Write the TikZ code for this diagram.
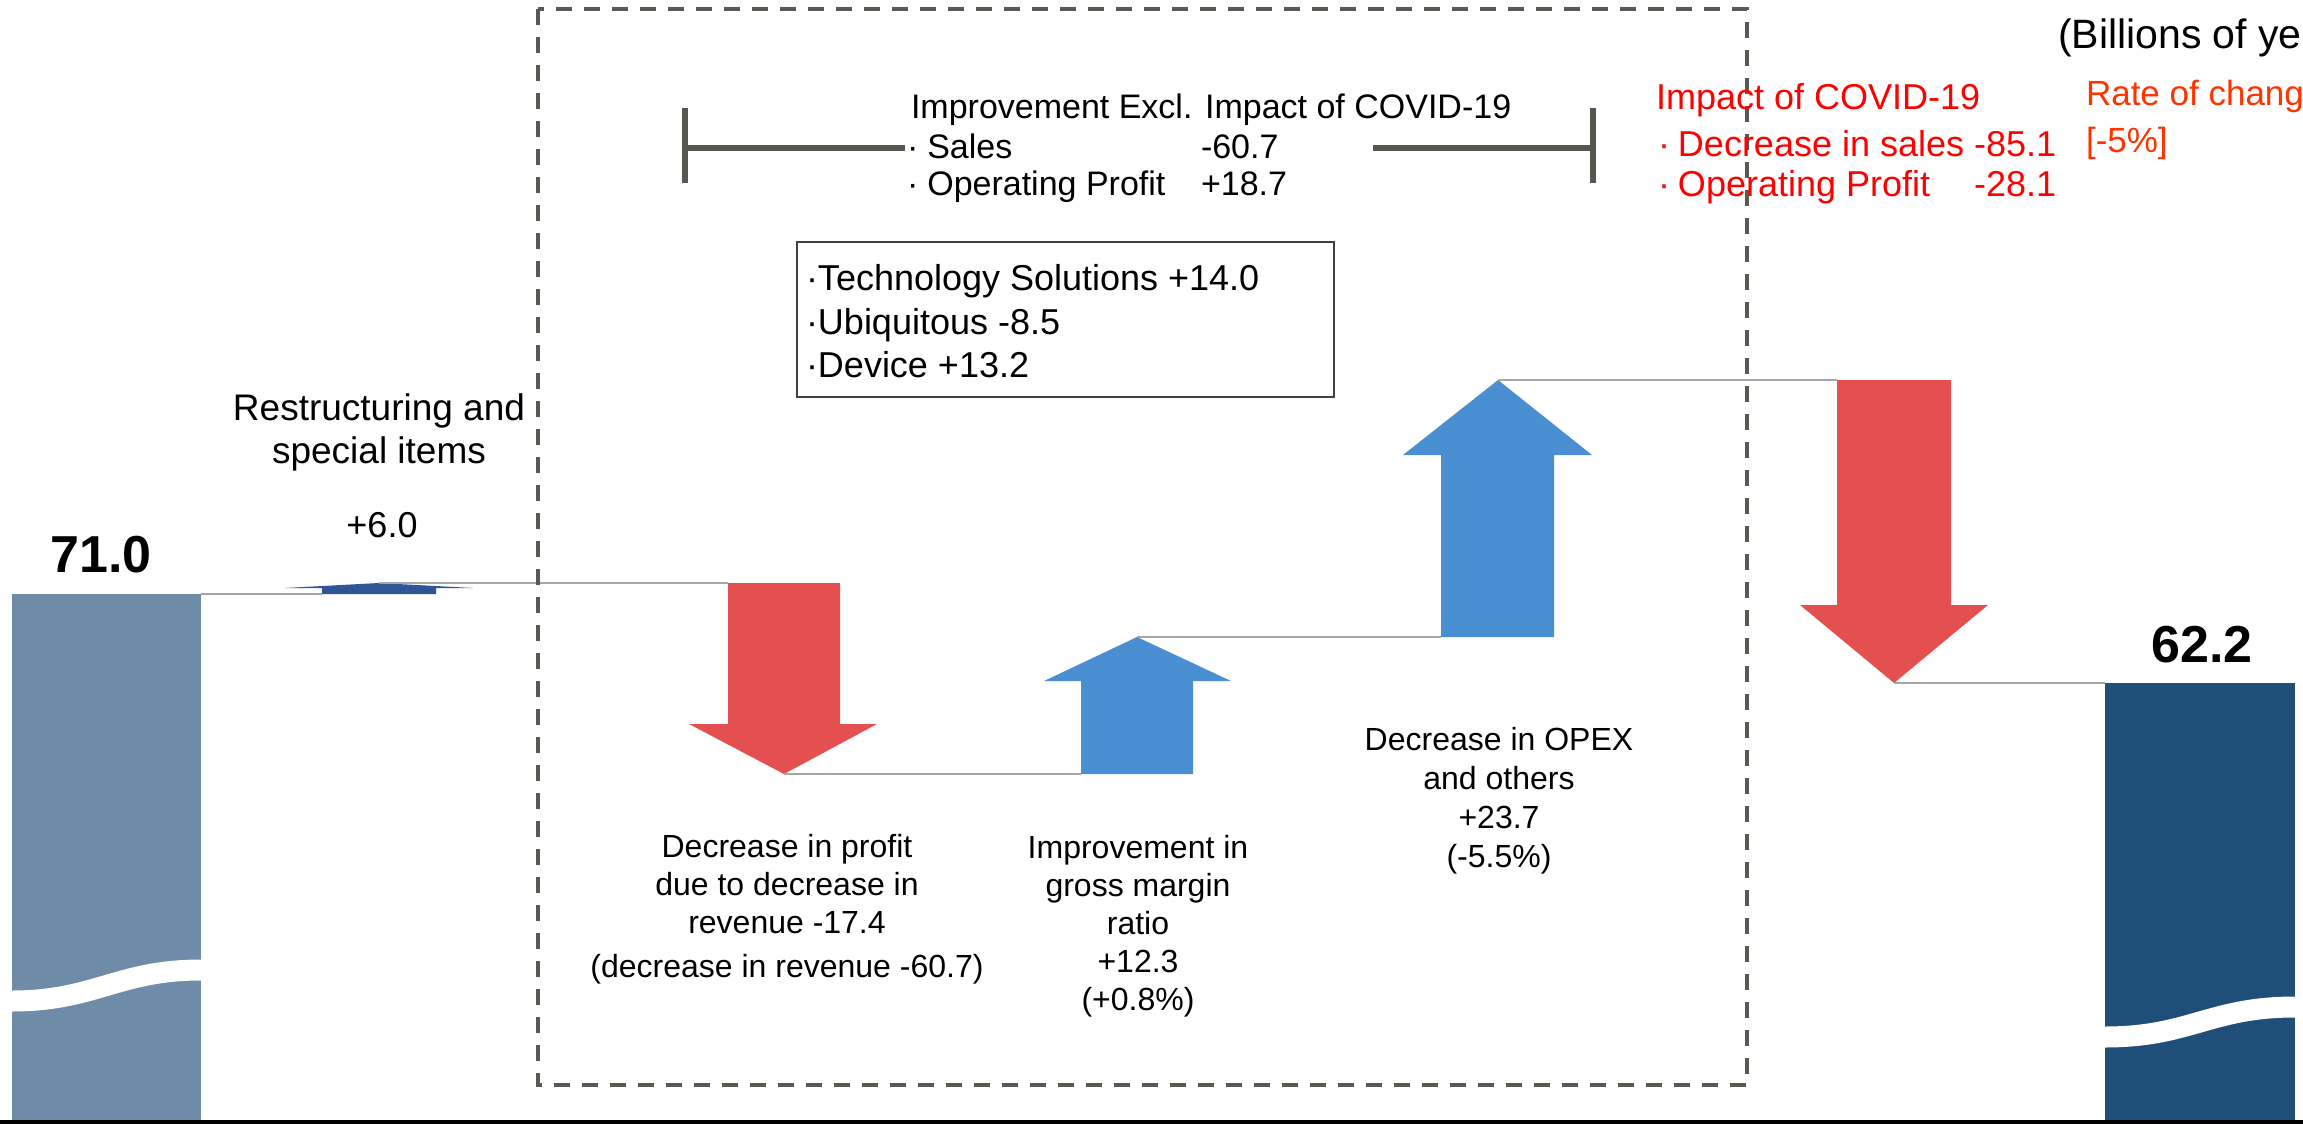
\documentclass[tikz,border=0pt]{standalone}
\usepackage{fontspec}
\setmainfont{Liberation Sans}
\definecolor{leftbarc}{HTML}{6E8CA8}
\definecolor{rightbarc}{HTML}{1F4E79}
\definecolor{smallblue}{HTML}{2F5597}
\definecolor{arrowblue}{HTML}{4A8FD1}
\definecolor{arrowred}{HTML}{E44F4F}
\definecolor{conngray}{HTML}{A6A6A6}
\definecolor{dashc}{HTML}{595952}
\definecolor{bracketc}{HTML}{57574F}
\definecolor{boxc}{HTML}{404040}
\definecolor{covidred}{HTML}{FF0000}
\definecolor{rateor}{HTML}{FF3300}
\newcommand\fsTopTxt{\fontsize{34}{38}\selectfont}
\newcommand\fsBoxTxt{\fontsize{36}{43}\selectfont}
\newcommand\fsRedTxt{\fontsize{36}{42}\selectfont}
\newcommand\fsRateTxt{\fontsize{35}{42}\selectfont}
\newcommand\fsUnitTxt{\fontsize{41}{46}\selectfont}
\newcommand\fsRestrTxt{\fontsize{37}{43}\selectfont}
\newcommand\fsBigNum{\fontsize{52}{60}\selectfont\bfseries}
\tikzset{
  conn/.style={draw=conngray, line width=2pt},
  redarrow/.style={fill=arrowred},
  bluearrow/.style={fill=arrowblue},
  wavegap/.style={draw=white, line width=21pt},
  dashbox/.style={draw=dashc, line width=4pt, dash pattern=on 16pt off 12pt},
  bracketline/.style={draw=bracketc, line width=6pt},
}
\begin{document}
\begin{tikzpicture}[x=1pt,y=-1pt, every node/.style={inner sep=0pt, outer sep=0pt}]
\useasboundingbox (0,0) rectangle (2303,1124);
\fill[white] (0,0) rectangle (2303,1124);

% ---- bars
\fill[leftbarc] (12,594) rectangle (201,1121);
\coordinate (lbtr) at (201,594);
\draw[wavegap] (12,1001) .. controls (95,1001) and (118,970) .. (201,970);
\fill[rightbarc] (2105,683) rectangle (2295,1121);
\coordinate (rbtl) at (2105,683);
\draw[wavegap] (2105,1037) .. controls (2190,1037) and (2210,1007) .. (2295,1007);
\fill[black] (0,1120) rectangle (2303,1124);

% ---- small blue arrow (restructuring)
\coordinate (s0bl) at (322,594);
\coordinate (s0tip) at (379,583);
\fill[smallblue] (s0bl) -- (436,594) -- (436,588) -- (473,588) -- (s0tip) -- (285,588) -- (322,588) -- cycle;

% ---- red arrow 1
\coordinate (r1tl) at (728,583);
\coordinate (r1tip) at (784,774);
\fill[redarrow] (r1tl) -- (840,583) -- (840,724) -- (877,724) -- (r1tip) -- (689,724) -- (728,724) -- cycle;

% ---- blue arrow 2
\coordinate (b2bl) at (1081,774);
\coordinate (b2tip) at (1137,637);
\fill[bluearrow] (b2bl) -- (1193,774) -- (1193,681) -- (1231,681) -- (b2tip) -- (1044,681) -- (1081,681) -- cycle;

% ---- blue arrow 3
\coordinate (b3bl) at (1441,637);
\coordinate (b3tip) at (1498,380);
\fill[bluearrow] (b3bl) -- (1554,637) -- (1554,455) -- (1592,455) -- (b3tip) -- (1403,455) -- (1441,455) -- cycle;

% ---- red arrow 4
\coordinate (r4tl) at (1837,380);
\coordinate (r4tip) at (1894,683);
\fill[redarrow] (r4tl) -- (1951,380) -- (1951,605) -- (1988,605) -- (r4tip) -- (1800,605) -- (1837,605) -- cycle;

% ---- connectors
\draw[conn] (lbtr) -- (s0bl);
\draw[conn] (s0tip) -- (r1tl);
\draw[conn] (r1tip) -- (b2bl);
\draw[conn] (b2tip) -- (b3bl);
\draw[conn] (b3tip) -- (r4tl);
\draw[conn] (r4tip) -- (rbtl);

% ---- dashed box
\draw[dashbox] (538,9) rectangle (1747,1085);

% ---- bracket
\draw[bracketline] (685,108) -- (685,183);
\draw[bracketline] (685,148) -- (905,148);
\draw[bracketline] (1373,148) -- (1593,148);
\draw[bracketline] (1593,108) -- (1593,183);

% ---- top improvement text
\node[anchor=base west, font=\fsTopTxt] (imp) at (911,118) {Improvement Excl. Impact of COVID-19};
\node[anchor=base west, font=\fsTopTxt] (impS) at (907,158) {·\hspace{9pt}Sales};
\node[anchor=base west, font=\fsTopTxt] (impSv) at (1201,158) {-60.7};
\node[anchor=base west, font=\fsTopTxt] (impO) at (907,195) {·\hspace{9pt}Operating Profit};
\node[anchor=base west, font=\fsTopTxt] (impOv) at (1201,195) {+18.7};

% ---- segment box
\node[draw=boxc, line width=1.5pt, minimum width=537pt, minimum height=155pt, anchor=north west] (segbox) at (797,242) {};
\node[anchor=base west, font=\fsBoxTxt] (seg1) at (806,290) {·Technology Solutions +14.0};
\node[anchor=base west, font=\fsBoxTxt] (seg2) at (806,334) {·Ubiquitous -8.5};
\node[anchor=base west, font=\fsBoxTxt] (seg3) at (806,377) {·Device +13.2};

% ---- COVID impact (red)
\node[anchor=base west, font=\fsRedTxt, text=covidred] (cv1) at (1656,109) {Impact of COVID-19};
\node[anchor=base west, font=\fsRedTxt, text=covidred] (cv2) at (1658,156) {·\hspace{8pt}Decrease in sales -85.1};
\node[anchor=base west, font=\fsRedTxt, text=covidred] (cv3) at (1658,196) {·\hspace{8pt}Operating Profit};
\node[anchor=base east, font=\fsRedTxt, text=covidred] (cv3v) at (cv2.east |- cv3.base) {-28.1};

% ---- rate of change & unit
\node[anchor=base west, font=\fsRateTxt, text=rateor] (rate1) at (2086,105) {Rate of change};
\node[anchor=base west, font=\fsRateTxt, text=rateor] (rate2) at (2086,152) {[-5\%]};
\node[anchor=base west, font=\fsUnitTxt] (unit) at (2058,49) {(Billions of yen)};

% ---- big numbers
\node[anchor=base, font=\fsBigNum] (v71) at (101,572) {71.0};
\node[anchor=base, font=\fsBigNum] (v62) at (2202,662) {62.2};

% ---- restructuring labels
\node[anchor=base, font=\fsRestrTxt] (restr) at (379,420) {\begin{tabular}[t]{@{}c@{}}Restructuring and\\ special items\end{tabular}};
\node[anchor=base, font=\fontsize{36}{42}\selectfont] (restrv) at (382,537) {+6.0};

% ---- bottom labels
\node[anchor=base, font=\fontsize{32}{38}\selectfont] (lbl1) at (787,857) {\begin{tabular}[t]{@{}c@{}}Decrease in profit\\ due to decrease in\\ revenue -17.4\\[6pt] (decrease in revenue -60.7)\end{tabular}};
\node[anchor=base, font=\fontsize{32}{38}\selectfont] (lbl2) at (1138,858) {\begin{tabular}[t]{@{}c@{}}Improvement in\\ gross margin\\ ratio\\ +12.3\\ (+0.8\%)\end{tabular}};
\node[anchor=base, font=\fontsize{32}{39}\selectfont] (lbl3) at (1499,750) {\begin{tabular}[t]{@{}c@{}}Decrease in OPEX\\ and others\\ +23.7\\ (-5.5\%)\end{tabular}};
\end{tikzpicture}
\end{document}
